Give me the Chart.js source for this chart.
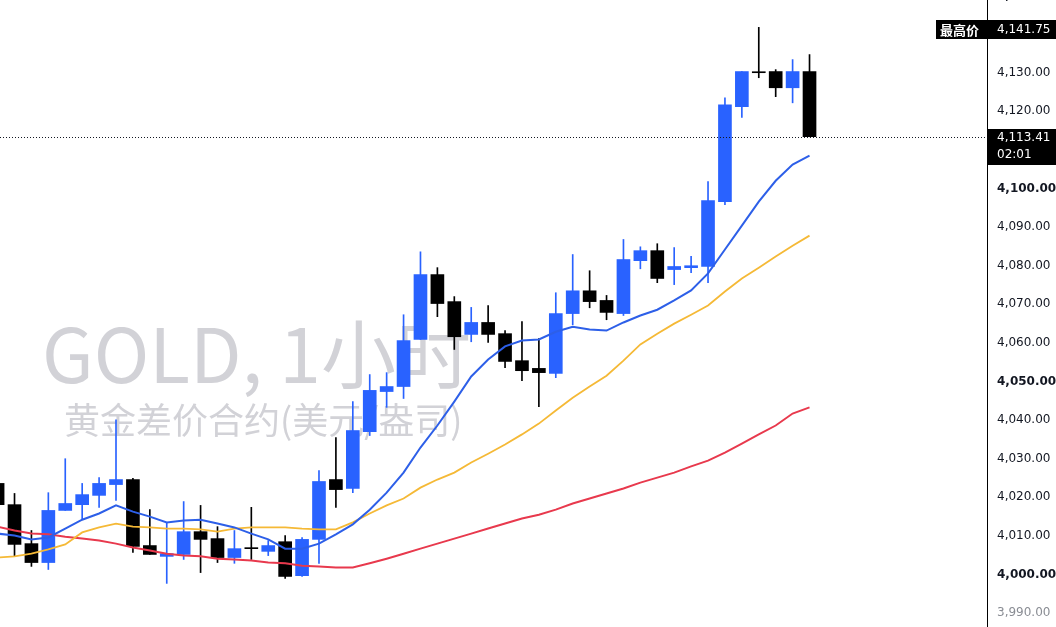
<!DOCTYPE html>
<html><head><meta charset="utf-8">
<script src="https://cdn.jsdelivr.net/npm/chart.js@4.4.1/dist/chart.umd.min.js"></script>
<style>
html,body{margin:0;padding:0;background:#fff;overflow:hidden;width:1056px;height:627px;}
#wrap{position:absolute;left:0;top:-30px;width:1056px;height:687px;}
</style></head><body>
<div id="wrap"><canvas id="c" width="1056" height="687"></canvas></div>
<script>
// ---- data ----
const opens  = [4023.6,4018.1,4008.0,4003.1,4016.6,4018.1,4020.5,4023.3,4024.6,4007.5,4004.7,4005.2,4011.1,4009.3,4004.4,4006.7,4006.0,4008.5,3999.7,4009.1,4024.6,4022.3,4037.0,4047.4,4048.7,4060.9,4077.7,4070.7,4062.2,4065.3,4062.4,4055.4,4053.4,4052.1,4067.6,4073.5,4071.0,4067.6,4081.3,4083.9,4079.0,4079.5,4079.8,4096.6,4121.2,4130.0,4130.3,4126.1,4130.3];
const highs  = [4024.3,4021.0,4011.4,4021.2,4030.0,4023.6,4025.1,4040.1,4024.9,4016.8,4013.5,4018.9,4017.9,4012.4,4011.4,4017.4,4008.8,4010.1,4009.6,4026.9,4035.5,4044.8,4051.8,4052.3,4067.3,4083.6,4079.5,4072.0,4069.2,4069.7,4063.2,4065.5,4061.1,4073.0,4082.9,4078.7,4072.3,4086.8,4084.9,4085.7,4084.7,4082.4,4101.8,4123.5,4130.3,4141.75,4130.8,4133.4,4134.7];
const lows   = [4017.1,4004.7,4002.1,4001.3,4016.6,4014.2,4017.4,4019.2,4005.7,4005.2,3997.7,4003.9,4000.5,4003.1,4002.9,4003.9,4004.9,3999.0,3999.5,4002.9,4017.4,4021.2,4036.0,4043.3,4045.6,4060.9,4066.8,4058.3,4060.3,4060.1,4053.6,4050.2,4043.5,4051.0,4064.7,4069.1,4066.0,4067.1,4079.2,4075.6,4075.1,4078.2,4075.6,4095.8,4118.4,4128.7,4123.8,4122.2,4113.41];
const closes = [4018.1,4007.8,4003.1,4016.6,4018.4,4020.7,4023.6,4024.6,4007.3,4005.2,4005.4,4011.1,4009.1,4004.4,4006.7,4006.7,4007.5,3999.5,4009.1,4024.1,4022.0,4037.3,4047.7,4048.7,4060.6,4077.7,4070.2,4061.6,4065.3,4062.2,4055.2,4052.8,4052.3,4067.6,4073.5,4070.7,4067.9,4081.6,4083.9,4076.7,4079.8,4080.0,4096.9,4121.7,4130.3,4130.0,4126.1,4130.3,4113.41];
const maFast = [4010.6,4010.1,4009.1,4009.6,4011.9,4014.2,4015.8,4017.9,4016.3,4015.0,4013.5,4014.0,4014.2,4013.2,4012.2,4010.6,4009.1,4006.7,4006.7,4008.0,4010.4,4013.0,4016.8,4021.2,4026.4,4032.9,4038.6,4044.8,4051.3,4055.7,4059.1,4060.6,4060.9,4062.9,4064.2,4063.5,4063.2,4065.3,4067.1,4068.6,4071.0,4073.6,4078.0,4084.2,4090.4,4096.6,4102.0,4106.2,4108.5];
const maMid  = [4004.4,4004.7,4005.4,4006.5,4007.8,4010.9,4012.2,4013.2,4012.4,4012.2,4011.9,4011.9,4011.7,4011.1,4011.9,4012.2,4012.2,4012.2,4011.9,4011.7,4011.7,4013.5,4015.8,4017.9,4019.7,4022.5,4024.6,4026.4,4029.0,4031.3,4033.7,4036.3,4039.1,4042.5,4045.8,4048.7,4051.5,4055.4,4059.6,4062.4,4065.0,4067.3,4069.7,4073.3,4076.7,4079.5,4082.4,4085.2,4087.8];
const maSlow = [4012.4,4011.4,4010.6,4010.4,4009.8,4009.3,4008.8,4008.0,4007.0,4006.2,4005.4,4004.9,4004.7,4004.1,4003.9,4003.6,4003.1,4002.9,4002.3,4002.1,4001.8,4001.8,4002.9,4004.1,4005.4,4006.7,4008.0,4009.3,4010.6,4011.9,4013.2,4014.5,4015.5,4016.8,4018.4,4019.7,4021.0,4022.3,4023.8,4025.1,4026.4,4028.0,4029.5,4031.6,4033.9,4036.3,4038.6,4041.7,4043.3];
const yTickValues = [3990,4000,4010,4020,4030,4040,4050,4060,4070,4080,4090,4100,4110,4120,4130,4140,4150];
const lastPrice = 4113.41;
const lastTimeLeft = '02:01';
const highestPrice = 4141.75;
const highLabel = '最高价';
const watermarkTitle = 'GOLD, 1小时';
const watermarkSubtitle = '黄金差价合约(美元/盎司)';

// ---- style / layout ----
const OFFSET = 30;
const BLUE = '#2962ff', BLACK = '#000000';
const fmt = v => v.toLocaleString('en-US',{minimumFractionDigits:2, maximumFractionDigits:2});
const idx = closes.map((_, i) => i);
const colors = idx.map(i => closes[i] > opens[i] ? BLUE : BLACK);
const STEP = 16.915;
const X_MIN = 2.4 / STEP, X_MAX = X_MIN + 987 / STEP;
const Y_MIN = 3978.63, Y_MAX = 4156.61;

const overlay = {
  id: 'overlay',
  beforeDatasetsDraw(chart) {
    const ctx = chart.ctx;
    ctx.save();
    ctx.fillStyle = '#d2d2d7';
    ctx.textAlign = 'left';
    ctx.textBaseline = 'alphabetic';
    ctx.font = '75px "Noto Sans CJK SC"';
    ctx.fillText(watermarkTitle, 42, 383 + OFFSET);
    ctx.font = '36px "Noto Sans CJK SC"';
    ctx.fillText(watermarkSubtitle, 64, 434 + OFFSET);
    ctx.restore();
  },
  afterDraw(chart) {
    const ctx = chart.ctx, ys = chart.scales.y, a = chart.chartArea;
    ctx.save();
    const py = ys.getPixelForValue(lastPrice);
    const ly = Math.round(py) + 0.5;
    ctx.strokeStyle = '#131722'; ctx.lineWidth = 1; ctx.setLineDash([1, 2]);
    ctx.beginPath(); ctx.moveTo(a.left, ly); ctx.lineTo(a.right, ly); ctx.stroke();
    ctx.setLineDash([]);
    ctx.fillStyle = '#000';
    ctx.fillRect(a.right + 1, Math.round(py) - 8, chart.width - a.right - 1, 36);
    ctx.fillStyle = '#fff';
    ctx.font = '12px "DejaVu Sans"'; ctx.textBaseline = 'middle'; ctx.textAlign = 'left';
    ctx.fillText(fmt(lastPrice), a.right + 10, py + 1.5);
    ctx.fillText(lastTimeLeft, a.right + 10, py + 18.5);
    const hy = ys.getPixelForValue(highestPrice) + 2.5;
    ctx.fillStyle = '#000';
    ctx.fillRect(a.right - 51, Math.round(hy - 9.5), chart.width - a.right + 51, 19);
    ctx.fillStyle = '#fff';
    ctx.font = 'bold 13px "Noto Sans CJK SC"';
    ctx.fillText(highLabel, a.right - 47, hy);
    ctx.font = '12px "DejaVu Sans"';
    ctx.fillText(fmt(highestPrice), a.right + 10, hy);
    ctx.restore();
  }
};

new Chart(document.getElementById('c'), {
  type: 'bar',
  data: {
    datasets: [
      { type: 'line', data: idx.map(i => ({x: i, y: maFast[i]})), borderColor: '#2d5fe8', borderWidth: 2, pointRadius: 0, tension: 0, order: 0 },
      { type: 'line', data: idx.map(i => ({x: i, y: maMid[i]})), borderColor: '#f5b936', borderWidth: 1.8, pointRadius: 0, tension: 0, order: 0 },
      { type: 'line', data: idx.map(i => ({x: i, y: maSlow[i]})), borderColor: '#e8394d', borderWidth: 2, pointRadius: 0, tension: 0, order: 0 },
      { type: 'bar', data: idx.map(i => ({x: i, y: [opens[i], closes[i]]})), backgroundColor: colors, borderWidth: 0, barThickness: 13, grouped: false, minBarLength: 1, order: 2 },
      { type: 'bar', data: idx.map(i => ({x: i, y: [lows[i], highs[i]]})), backgroundColor: colors, borderWidth: 0, barThickness: 1, grouped: false, order: 3 }
    ]
  },
  options: {
    responsive: false, animation: false, devicePixelRatio: 1, events: [],
    layout: { padding: 0 },
    plugins: { legend: { display: false }, tooltip: { enabled: false } },
    scales: {
      x: { type: 'linear', display: false, min: X_MIN, max: X_MAX, offset: false, grid: { display: false } },
      y: {
        type: 'linear', position: 'right', min: Y_MIN, max: Y_MAX,
        grid: { display: false, drawTicks: false },
        border: { display: true, color: '#000', width: 1 },
        afterBuildTicks: s => { s.ticks = yTickValues.map(v => ({ value: v })); },
        afterFit: s => { s.width = 69; s.paddingTop = 0; s.paddingBottom = 0; },
        ticks: {
          padding: 10, crossAlign: 'near',
          color: c => (c.tick && c.tick.value === 3990) ? '#8a8d94' : '#131722',
          font: c => ({ family: 'DejaVu Sans', size: 12, weight: (c.tick && c.tick.value % 50 === 0) ? 'bold' : 'normal' }),
          callback: v => fmt(v)
        }
      }
    }
  },
  plugins: [overlay]
});
</script>
</body></html>
